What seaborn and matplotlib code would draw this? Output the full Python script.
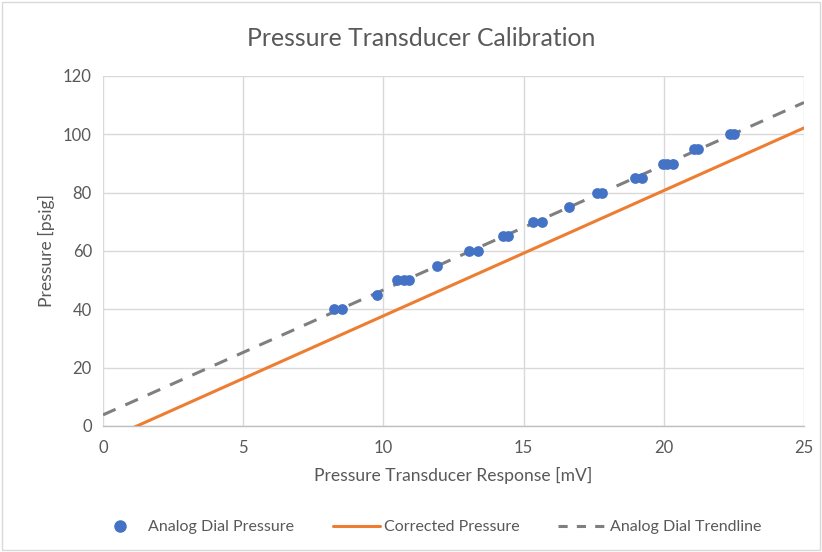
import numpy as np
import pandas as pd
import matplotlib
matplotlib.use("Agg")
import matplotlib.pyplot as plt
import seaborn as sns
from matplotlib.patches import Rectangle
from matplotlib.lines import Line2D

# Data
response_mv = [8.24, 8.52, 9.77, 10.49, 10.72, 10.91, 11.90, 13.06, 13.36, 14.27, 14.45,
               15.35, 15.64, 16.62, 17.60, 17.78, 18.97, 19.21, 19.96, 20.10, 20.34,
               21.08, 21.22, 22.36, 22.50]
dial_psig = [40, 40, 45, 50, 50, 50, 55, 60, 60, 65, 65,
             70, 70, 75, 80, 80, 85, 85, 90, 90, 90,
             95, 95, 100, 100]
corrected_x = [0, 25]
corrected_y = [-5.2, 102.2]
x_ticks = [0, 5, 10, 15, 20, 25]
y_ticks = [0, 20, 40, 60, 80, 100, 120]

title = "Pressure Transducer Calibration"
xlabel = "Pressure Transducer Response [mV]"
ylabel = "Pressure [psig]"

sns.set_theme(style="white")
plt.rcParams['font.family'] = ['Lato', 'DejaVu Sans']

fig = plt.figure(figsize=(8.22, 5.52), dpi=100)
ax = fig.add_axes([103/822, 1-426/552, (804-103)/822, (426-76)/552])

text_c = "#595959"
grid_c = "#d9d9d9"

df = pd.DataFrame({"x": response_mv, "y": dial_psig})
dfc = pd.DataFrame({"x": corrected_x, "y": corrected_y})

# trendline from least squares fit of the dial data
slope, intercept = np.polyfit(response_mv, dial_psig, 1)
trend = pd.DataFrame({"x": x_ticks, "y": [slope * v + intercept for v in x_ticks]})

sns.lineplot(data=dfc, x="x", y="y", ax=ax, color="#ED7D31", linewidth=2.2, zorder=3)
sns.lineplot(data=trend, x="x", y="y", ax=ax, color="#7F7F7F", linewidth=2.2,
             dashes=False, zorder=3)
ax.lines[-1].set_dashes([4.5, 3.5])
sns.scatterplot(data=df, x="x", y="y", ax=ax, color="#4472C4", s=60,
                edgecolor="#4472C4", linewidth=0, zorder=4)

ax.set_xlim(0, 25)
ax.set_ylim(0, 120)
ax.set_xticks(x_ticks)
ax.set_yticks(y_ticks)
ax.grid(True, color=grid_c, linewidth=1)
ax.set_axisbelow(True)
for s in ["top", "right", "left"]:
    ax.spines[s].set_visible(False)
ax.spines["bottom"].set_color("#bfbfbf")
ax.spines["bottom"].set_linewidth(1)
ax.tick_params(axis="both", colors=text_c, labelsize=12, length=0)
ax.tick_params(axis="x", pad=10)
ax.tick_params(axis="y", pad=8)
for lbl in ax.get_xticklabels() + ax.get_yticklabels():
    lbl.set_color(text_c)

ax.set_xlabel(xlabel, fontsize=12.6, color=text_c, labelpad=8)
ax.set_ylabel(ylabel, fontsize=12.6, color=text_c, labelpad=6)
fig.text(421/822, 1-38/552, title, ha="center", va="center", fontsize=17.8, color=text_c)

handles = [
    Line2D([], [], marker="o", linestyle="none", color="#4472C4", markersize=8),
    Line2D([], [], color="#ED7D31", linewidth=2.2),
    Line2D([], [], color="#7F7F7F", linewidth=2.2, dashes=[3, 3]),
]
labels = ["Analog Dial Pressure", "Corrected Pressure", "Analog Dial Trendline"]
fig.legend(handles, labels, loc="center", bbox_to_anchor=(429/822, 1-527/552), ncol=3,
           frameon=False, fontsize=11.5, labelcolor=text_c, handlelength=3.0,
           columnspacing=2.4, handletextpad=0.25)

fig.patches.append(Rectangle((0.003, 0.003), 0.994, 0.994, transform=fig.transFigure,
                             fill=False, edgecolor="#d9d9d9", linewidth=1))

fig.savefig("out.png", dpi=100, facecolor="white")
